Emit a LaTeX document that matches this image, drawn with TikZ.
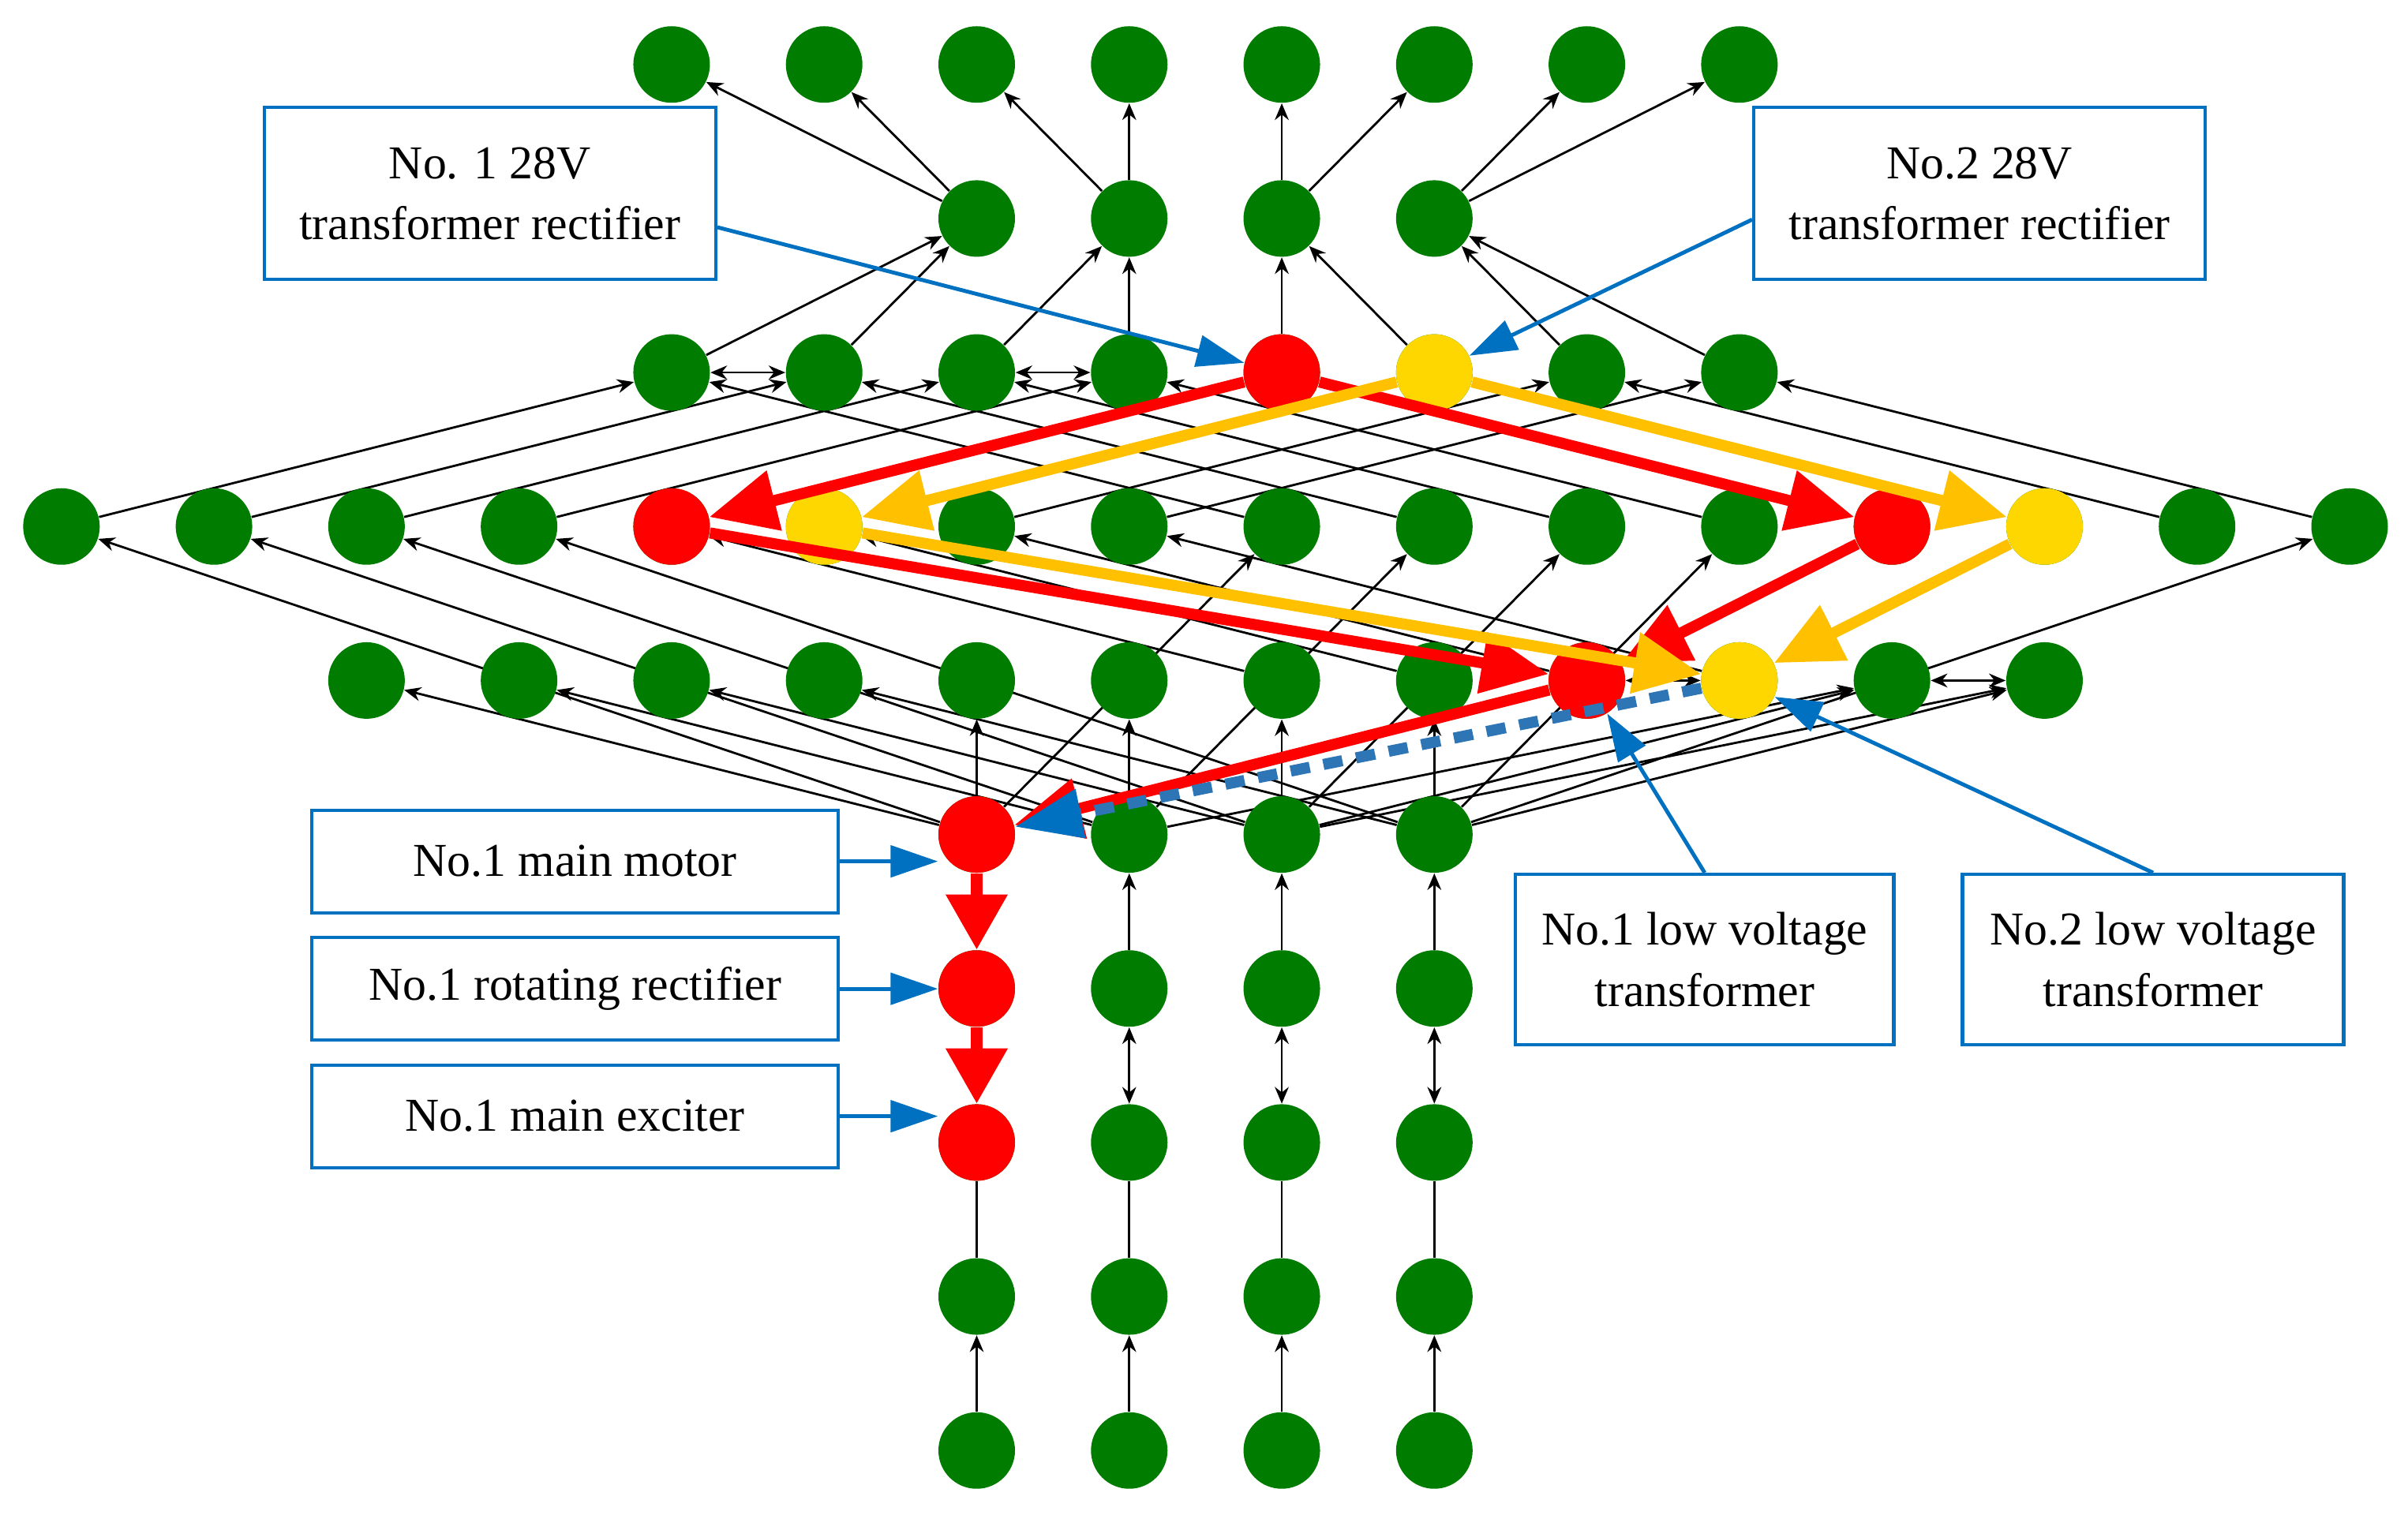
\documentclass[tikz,border=0pt]{standalone}
\usepackage{fontspec}
\setmainfont{Liberation Serif}
\usetikzlibrary{arrows.meta}
\pgfdeclarelayer{bg}
\pgfsetlayers{bg,main}
\definecolor{gn}{HTML}{007D00}
\definecolor{rd}{HTML}{FF0000}
\definecolor{yl}{HTML}{FFD700}
\definecolor{org}{HTML}{FFC000}
\definecolor{bl}{HTML}{0070C0}
\definecolor{dbl}{HTML}{2E75B6}
\begin{document}
\begin{tikzpicture}[x=0.01946cm,y=-0.01946cm,
  nd/.style={circle,fill=gn,minimum size=0.97cm,inner sep=0pt},
  thin/.style={black,line width=0.8pt,-{Stealth[length=6pt,width=5pt]}},
  bi/.style={black,line width=0.8pt,{Stealth[length=6pt,width=5pt]}-{Stealth[length=6pt,width=5pt]}},
  ln/.style={black,line width=0.8pt},
  thk/.style={line width=4pt,-{Triangle[length=0.85cm,width=0.75cm]}},
  lbl/.style={draw=bl,line width=1.2pt,fill=white,align=center,font=\fontsize{17}{22}\selectfont,inner sep=0pt},
  la/.style={bl,line width=1.4pt,-{Triangle[length=0.6cm,width=0.4cm]}}]
\useasboundingbox (0,0) rectangle (1568,986.6);
% nodes
\foreach \r/\a/\b in {0/4/11,1/6/9,2/4/11,3/0/15,4/2/13,5/6/9,6/6/9,7/6/9,8/6/9,9/6/9}
  \foreach \k in {\a,...,\b}
    \node[nd] (r\r c\k) at ({40+99.33*\k},{42+100.3*\r}) {};
\foreach \n in {r2c8,r3c4,r3c12,r4c10,r5c6,r6c6,r7c6} \node[nd,fill=rd] at (\n) {};
\foreach \n in {r2c9,r3c5,r3c13,r4c11} \node[nd,fill=yl] at (\n) {};
\begin{pgfonlayer}{bg}
\foreach \s/\t in {r1c6/r0c4,r1c6/r0c5,r1c7/r0c6,r1c7/r0c7,r1c8/r0c8,r1c8/r0c9,r1c9/r0c10,r1c9/r0c11,
  r2c4/r1c6,r2c5/r1c6,r2c6/r1c7,r2c7/r1c7,r2c8/r1c8,r2c9/r1c8,r2c10/r1c9,r2c11/r1c9,
  r3c0/r2c4,r3c1/r2c5,r3c2/r2c6,r3c3/r2c7,r3c14/r2c10,r3c15/r2c11,
  r3c8/r2c4,r3c9/r2c5,r3c10/r2c6,r3c11/r2c7,r3c6/r2c10,r3c7/r2c11,
  r5c6/r3c8,r5c7/r3c9,r5c8/r3c10,r5c9/r3c11,
  r5c6/r3c0,r5c7/r3c1,r5c8/r3c2,r5c9/r3c3,
  r4c8/r3c4,r4c9/r3c5,r4c10/r3c6,r4c11/r3c7,
  r5c6/r4c2,r5c7/r4c3,r5c8/r4c4,r5c9/r4c5,
  r5c7/r4c12,r5c8/r4c12,r5c8/r4c13,r5c9/r4c13,r5c9/r3c15,
  r5c6/r4c6,r5c7/r4c7,r5c8/r4c8,r5c9/r4c9,
  r6c7/r5c7,r6c8/r5c8,r6c9/r5c9,
  r9c6/r8c6,r9c7/r8c7,r9c8/r8c8,r9c9/r8c9}
  \draw[thin] (\s) -- (\t);
\foreach \s/\t in {r2c4/r2c5,r2c6/r2c7,r4c10/r4c11,r4c12/r4c13,r6c7/r7c7,r6c8/r7c8,r6c9/r7c9}
  \draw[bi] (\s) -- (\t);
\foreach \k in {6,...,9} \draw[ln] (r7c\k) -- (r8c\k);
\end{pgfonlayer}
% thick paths
\foreach \s/\t in {r2c8/r3c4,r2c8/r3c12,r3c4/r4c10,r3c12/r4c10,r4c10/r5c6}
  \draw[thk,rd] (\s) -- (\t);
\foreach \s/\t in {r5c6/r6c6,r6c6/r7c6}
  \draw[rd,line width=4pt,-{Triangle[length=0.7cm,width=0.75cm]}] (\s) -- (\t);
\foreach \s/\t in {r2c9/r3c5,r2c9/r3c13,r3c5/r4c11,r3c13/r4c11}
  \draw[thk,org] (\s) -- (\t);
\draw[dbl,line width=4pt,dash pattern=on 7pt off 5pt,-{Triangle[length=0.85cm,width=0.6cm,fill=bl,color=bl]}] (r4c11) -- (r5c6);
% labels
\node[lbl,minimum width=5.72cm,minimum height=2.18cm] (b1) at (319,126) {No. 1 28V\\transformer rectifier};
\node[lbl,minimum width=5.72cm,minimum height=2.18cm] (b2) at (1289,126) {No.2 28V\\transformer rectifier};
\node[lbl,minimum width=6.67cm,minimum height=1.30cm] (b3) at (374.5,561) {No.1 main motor};
\node[lbl,minimum width=6.67cm,minimum height=1.30cm] (b4) at (374.5,644) {No.1 rotating rectifier};
\node[lbl,minimum width=6.67cm,minimum height=1.30cm] (b5) at (374.5,727) {No.1 main exciter};
\node[lbl,minimum width=4.79cm,minimum height=2.16cm] (b6) at (1110,625) {No.1 low voltage\\transformer};
\node[lbl,minimum width=4.83cm,minimum height=2.16cm] (b7) at (1402,625) {No.2 low voltage\\transformer};
\draw[la] (b1.east |- 0,148) -- (r2c8);
\draw[la] (b2.west |- 0,143) -- (r2c9);
\draw[la] (b3.east) -- (b3.east -| r5c6.west);
\draw[la] (b4.east) -- (b4.east -| r6c6.west);
\draw[la] (b5.east) -- (b5.east -| r7c6.west);
\draw[la] (b6.north) -- (r4c10);
\draw[la] (b7.north) -- (r4c11);
\end{tikzpicture}
\end{document}
